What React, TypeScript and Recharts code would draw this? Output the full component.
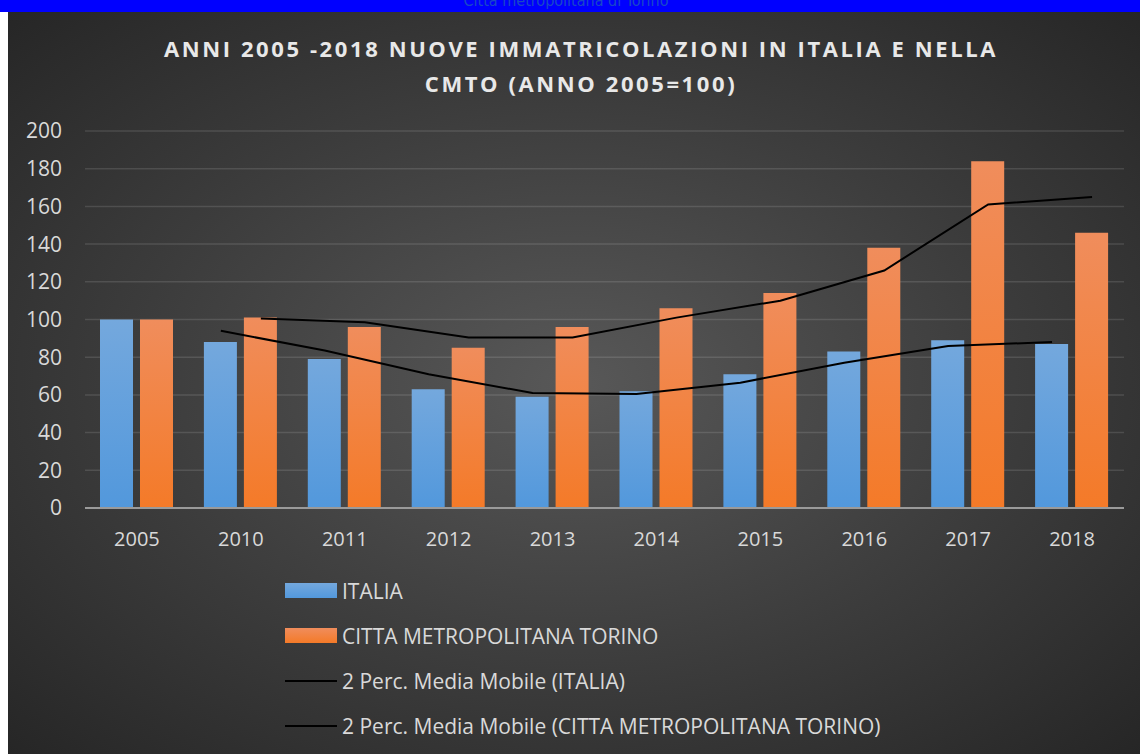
import { ComposedChart, Bar, Line, XAxis, YAxis, CartesianGrid } from 'recharts';

const years = ['2005', '2010', '2011', '2012', '2013', '2014', '2015', '2016', '2017', '2018'];
const italia = [100, 88, 79, 63, 59, 62, 71, 83, 89, 87];
const cmto = [100, 101, 96, 85, 96, 106, 114, 138, 184, 146];
const mmItalia = [null, 94, 83.5, 71, 61, 60.5, 66.5, 77, 86, 88];
const mmCmto = [null, 100.5, 98.5, 90.5, 90.5, 101, 110, 126, 161, 165];
const yTicks = [0, 20, 40, 60, 80, 100, 120, 140, 160, 180, 200];

const data = years.map((y, i) => ({
  year: y,
  italia: italia[i],
  cmto: cmto[i],
  mmItalia: mmItalia[i],
  mmCmto: mmCmto[i],
}));

const FONT = '"Open Sans", sans-serif';
const TXT = '#d9d9d9';

const legendItems = [
  { label: 'ITALIA', kind: 'bar', fill: 'linear-gradient(#74a8dd, #5298dc)' },
  { label: 'CITTA METROPOLITANA TORINO', kind: 'bar', fill: 'linear-gradient(#f08d5c, #f47a28)' },
  { label: '2 Perc. Media Mobile (ITALIA)', kind: 'line' },
  { label: '2 Perc. Media Mobile (CITTA METROPOLITANA TORINO)', kind: 'line' },
];

export default function App() {
  return (
    <div style={{ position: 'absolute', left: 0, top: 0, width: 1140, height: 754, background: '#fff', overflow: 'hidden', fontFamily: FONT }}>
      {/* blue strip on top, its caption is cut like in the source */}
      <div style={{ position: 'absolute', left: 0, top: 0, width: 1140, height: 12, background: '#0000ff', overflow: 'hidden' }}>
        <div style={{ position: 'absolute', left: 0, width: 1132, top: -9, textAlign: 'center', fontFamily: '"DejaVu Sans Condensed", sans-serif', fontSize: 16, color: '#1848c8', lineHeight: '20px' }}>
          Citta metropolitana di Torino
        </div>
      </div>
      <div
        style={{
          position: 'absolute', left: 8, top: 12, width: 1132, height: 742,
          background: 'radial-gradient(ellipse farthest-corner at 50% 50%, #585858 0%, #3c3c3c 55%, #262626 100%)',
        }}
      >
        <div style={{ position: 'absolute', left: 0, width: 1146, top: 19, textAlign: 'center', color: '#e8e8e8', fontWeight: 700, fontSize: 22, letterSpacing: 2.6, lineHeight: '35px' }}>
          ANNI 2005 -2018 NUOVE IMMATRICOLAZIONI IN ITALIA E NELLA<br />CMTO (ANNO 2005=100)
        </div>
        <ComposedChart width={1132} height={742} data={data} margin={{ top: 119, right: 16, left: 17, bottom: 216 }} barSize={33} barGap={7}>
          <defs>
            <linearGradient id="gBlue" x1="0" y1="0" x2="0" y2="1">
              <stop offset="0%" stopColor="#74a8dd" />
              <stop offset="100%" stopColor="#5298dc" />
            </linearGradient>
            <linearGradient id="gOrange" x1="0" y1="0" x2="0" y2="1">
              <stop offset="0%" stopColor="#f08d5c" />
              <stop offset="100%" stopColor="#f47a28" />
            </linearGradient>
          </defs>
          <CartesianGrid vertical={false} stroke="#ffffff" strokeOpacity={0.12} strokeWidth={1.5} />
          <XAxis dataKey="year" tickLine={false} tickSize={0} tickMargin={24} axisLine={{ stroke: '#9a9a9a', strokeWidth: 2 }} tick={{ fill: TXT, fontSize: 20, fontFamily: FONT }} />
          <XAxis xAxisId="ita" dataKey="year" hide padding={{ left: -20, right: 20 }} />
          <XAxis xAxisId="cm" dataKey="year" hide padding={{ left: 20, right: -20 }} />
          <YAxis width={60} domain={[0, 200]} ticks={yTicks} axisLine={false} tickLine={false} tickSize={0} tickMargin={23} tick={{ fill: TXT, fontSize: 21, fontFamily: FONT }} />
          <Bar dataKey="italia" fill="url(#gBlue)" isAnimationActive={false} />
          <Bar dataKey="cmto" fill="url(#gOrange)" isAnimationActive={false} />
          <Line xAxisId="ita" dataKey="mmItalia" stroke="#000" strokeWidth={2} dot={false} type="linear" isAnimationActive={false} />
          <Line xAxisId="cm" dataKey="mmCmto" stroke="#000" strokeWidth={2} dot={false} type="linear" isAnimationActive={false} />
        </ComposedChart>
        <div style={{ position: 'absolute', left: 277, top: 556 }}>
          {legendItems.map((it) => (
            <div key={it.label} style={{ display: 'flex', alignItems: 'center', height: 45, color: TXT, fontSize: 21 }}>
              {it.kind === 'bar' ? (
                <div style={{ width: 52, height: 15, background: it.fill, marginRight: 5 }} />
              ) : (
                <div style={{ width: 52, height: 2, background: '#000', marginRight: 5 }} />
              )}
              <span>{it.label}</span>
            </div>
          ))}
        </div>
      </div>
    </div>
  );
}
